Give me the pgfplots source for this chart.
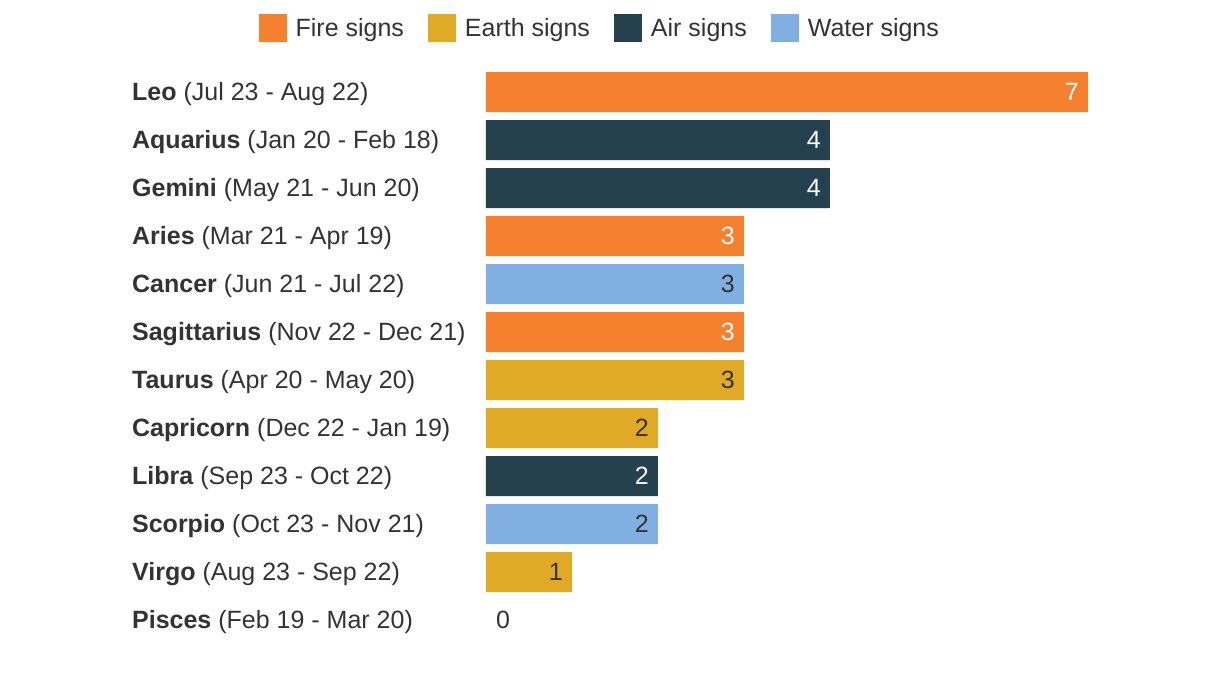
\documentclass[border=0pt]{standalone}
\usepackage{pgfplots}
\pgfplotsset{compat=1.18}
\usepackage{fontspec}
\setmainfont{Liberation Sans}
\definecolor{fireC}{HTML}{F5812F}
\definecolor{earthC}{HTML}{E0AA26}
\definecolor{airC}{HTML}{25414F}
\definecolor{waterC}{HTML}{80B0E2}
\definecolor{txtC}{HTML}{333333}
\newcommand{\lf}{\fontsize{25bp}{30bp}\selectfont}
\begin{document}
\begin{tikzpicture}
\begin{axis}[
  x=86bp, y=48bp,
  xmin=0, xmax=7, ymin=-0.5, ymax=11.5, y dir=reverse,
  axis line style={draw=none},
  xtick=\empty,
  ytick={0,...,11},
  major tick length=0pt,
  yticklabels={
    {\textbf{Leo} (Jul 23 - Aug 22)},
    {\textbf{Aquarius} (Jan 20 - Feb 18)},
    {\textbf{Gemini} (May 21 - Jun 20)},
    {\textbf{Aries} (Mar 21 - Apr 19)},
    {\textbf{Cancer} (Jun 21 - Jul 22)},
    {\textbf{Sagittarius} (Nov 22 - Dec 21)},
    {\textbf{Taurus} (Apr 20 - May 20)},
    {\textbf{Capricorn} (Dec 22 - Jan 19)},
    {\textbf{Libra} (Sep 23 - Oct 22)},
    {\textbf{Scorpio} (Oct 23 - Nov 21)},
    {\textbf{Virgo} (Aug 23 - Sep 22)},
    {\textbf{Pisces} (Feb 19 - Mar 20)}},
  yticklabel style={anchor=west, xshift=-354bp, yshift=-6bp, inner sep=0pt, font=\lf, text=txtC, text height=0.72em, text depth=0.2em},
  clip=false,
  /pgf/number format/assume math mode=true,
  legend columns=4,
  legend style={draw=none, at={(0.189,1.069)}, anchor=center, font=\lf, text=txtC,
    /tikz/every even column/.append style={column sep=22bp}},
  legend image code/.code={\fill[#1] (0bp,-14bp) rectangle (28bp,14bp); \path (35bp,0bp);},
]
\addlegendimage{fill=fireC, draw=none}
\addlegendentry{Fire signs}
\addlegendimage{fill=earthC, draw=none}
\addlegendentry{Earth signs}
\addlegendimage{fill=airC, draw=none}
\addlegendentry{Air signs}
\addlegendimage{fill=waterC, draw=none}
\addlegendentry{Water signs}

\addplot[xbar, bar width=40bp, bar shift=0pt, fill=fireC, draw=none, forget plot,
  nodes near coords, nodes near coords style={anchor=east, text=white, font=\lf, xshift=-7bp, inner sep=2bp}]
  coordinates {(7,0) (3,3) (3,5)};
\addplot[xbar, bar width=40bp, bar shift=0pt, fill=airC, draw=none, forget plot,
  nodes near coords, nodes near coords style={anchor=east, text=white, font=\lf, xshift=-7bp, inner sep=2bp}]
  coordinates {(4,1) (4,2) (2,8)};
\addplot[xbar, bar width=40bp, bar shift=0pt, fill=earthC, draw=none, forget plot,
  nodes near coords, nodes near coords style={anchor=east, text=txtC, font=\lf, xshift=-7bp, inner sep=2bp}]
  coordinates {(3,6) (2,7) (1,10)};
\addplot[xbar, bar width=40bp, bar shift=0pt, fill=waterC, draw=none, forget plot,
  nodes near coords, nodes near coords style={anchor=east, text=txtC, font=\lf, xshift=-7bp, inner sep=2bp}]
  coordinates {(3,4) (2,9)};
\addplot[xbar, bar width=40bp, bar shift=0pt, fill=none, draw=none, forget plot,
  nodes near coords, nodes near coords style={anchor=west, text=txtC, font=\lf, xshift=8bp, inner sep=2bp}]
  coordinates {(0,11)};
\path (axis cs:-5.651,-1.917) rectangle (axis cs:8.535,12.583);
\end{axis}
\end{tikzpicture}
\end{document}
